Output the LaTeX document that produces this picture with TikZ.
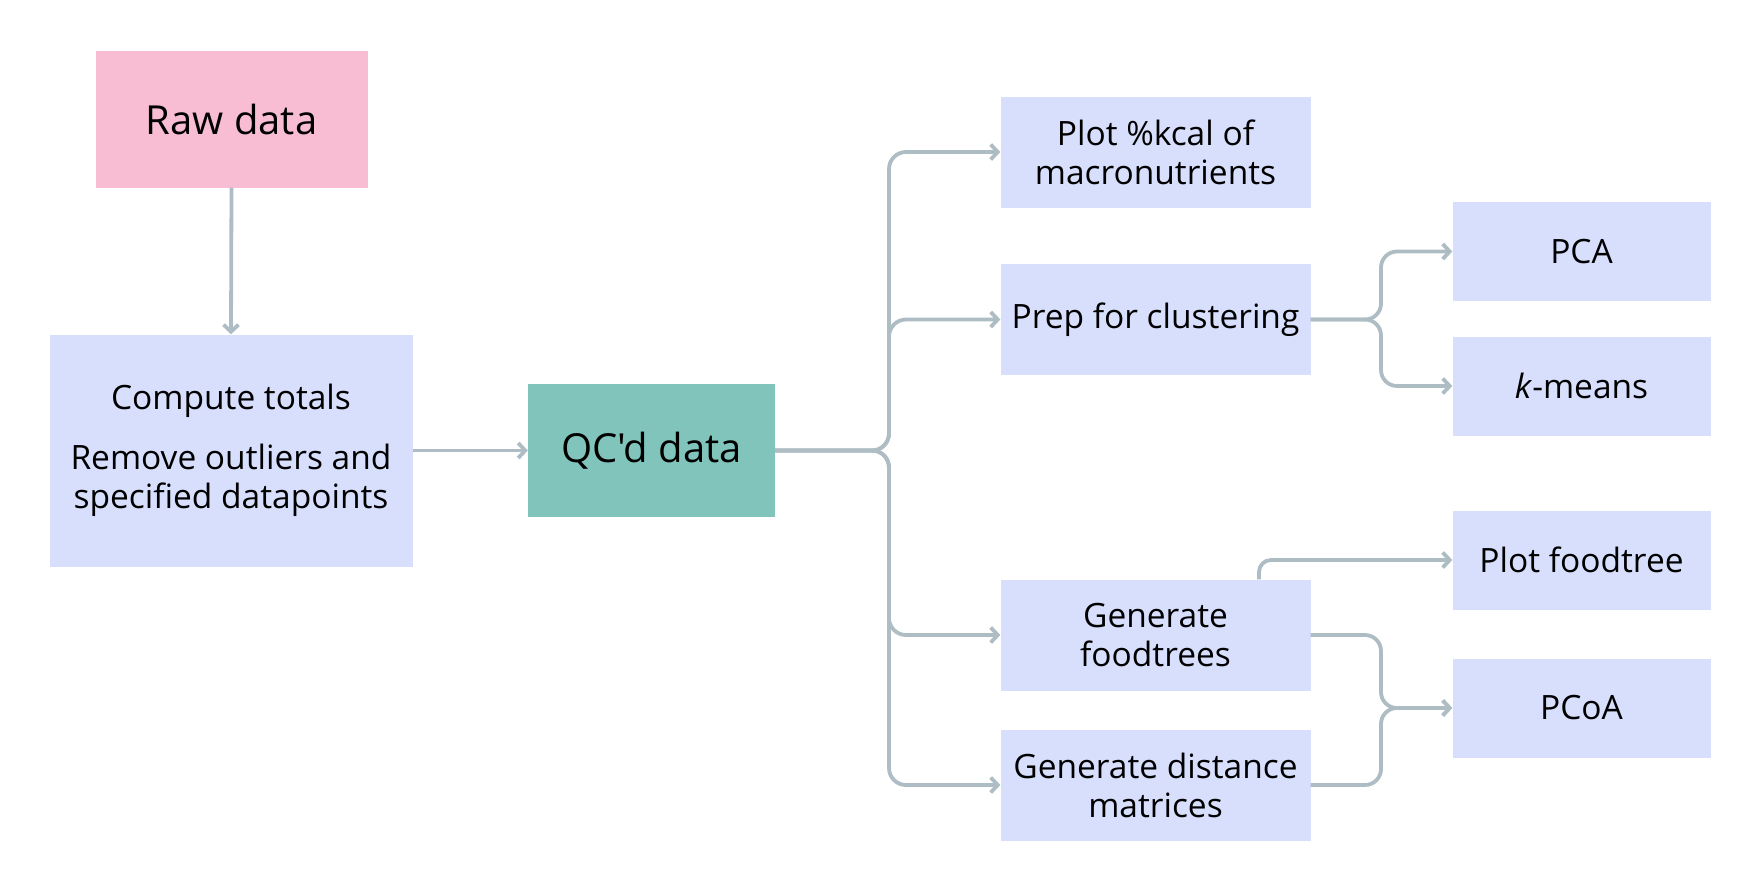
\documentclass[tikz,border=0pt]{standalone}
\usepackage{fontspec}
\setmainfont{Open Sans}[Ligatures=TeXOff]
\usetikzlibrary{arrows.meta,calc}
\definecolor{boxblue}{RGB}{215,223,253}
\definecolor{rawpink}{RGB}{248,189,211}
\definecolor{qcteal}{RGB}{128,196,187}
\definecolor{linegray}{RGB}{174,188,196}
\begin{document}
\begin{tikzpicture}[x=1pt,y=-1pt,
  box/.style={rectangle, fill=boxblue, inner sep=0pt, align=center,
    font=\fontsize{33.5}{39}\selectfont, text=black},
  bigbox/.style={box, font=\fontsize{40}{46}\selectfont},
  midbox/.style={box, minimum width=310pt, minimum height=111pt},
  rightbox/.style={box, minimum width=258pt, minimum height=99pt},
  conn/.style={draw=linegray, line width=3.8pt, -{Straight Barb[length=7pt,width=15pt]}},
]
\useasboundingbox (0,0) rectangle (1762,892);

\node[bigbox, fill=rawpink, minimum width=272pt, minimum height=137pt] (raw) at (231.5,119) {Raw data};
\node[box, minimum width=363pt, minimum height=232pt] (comp) at (231,450.5)
  {Compute totals\\[21pt]Remove outliers and\\specified datapoints};
\node[bigbox, fill=qcteal, minimum width=247pt, minimum height=133pt] (qc) at (651.5,450.5) {QC'd data};

\node[midbox] (plot) at (1155.5,152) {Plot \%kcal of\\macronutrients};
\node[midbox] (prep) at (1155.5,319.5) {Prep for clustering};
\node[midbox] (ft) at (1155.5,635) {Generate\\foodtrees};
\node[midbox] (dist) at (1155.5,785) {Generate distance\\matrices};

\node[rightbox] (pca) at (1581.5,251.5) {PCA};
\node[rightbox] (km) at (1581.5,386) {\textit{k}-means};
\node[rightbox] (pft) at (1581.5,560) {Plot foodtree};
\node[rightbox] (pcoa) at (1581.5,708) {PCoA};

\coordinate (bus) at (889,0);
\coordinate (bus2) at (1381,0);
\coordinate (up) at (1259,0);

\draw[conn] (raw.south) -- (comp.north);
\draw[conn] (comp.east) -- (qc.west);

\draw[conn, rounded corners=17pt] (qc.east) -| (bus |- plot.west) -- (plot.west);
\draw[conn, rounded corners=17pt] (qc.east) -| (bus |- prep.west) -- (prep.west);
\draw[conn, rounded corners=17pt] (qc.east) -| (bus |- ft.west) -- (ft.west);
\draw[conn, rounded corners=17pt] (qc.east) -| (bus |- dist.west) -- (dist.west);

\draw[conn, rounded corners=16pt] (prep.east) -| (bus2 |- pca.west) -- (pca.west);
\draw[conn, rounded corners=16pt] (prep.east) -| (bus2 |- km.west) -- (km.west);

\draw[conn, rounded corners=12pt] (up |- ft.north) |- (pft.west);

\draw[conn, rounded corners=16pt] (ft.east) -| (bus2 |- pcoa.west) -- (pcoa.west);
\draw[conn, rounded corners=16pt] (dist.east) -| (bus2 |- pcoa.west) -- (pcoa.west);
\end{tikzpicture}
\end{document}
